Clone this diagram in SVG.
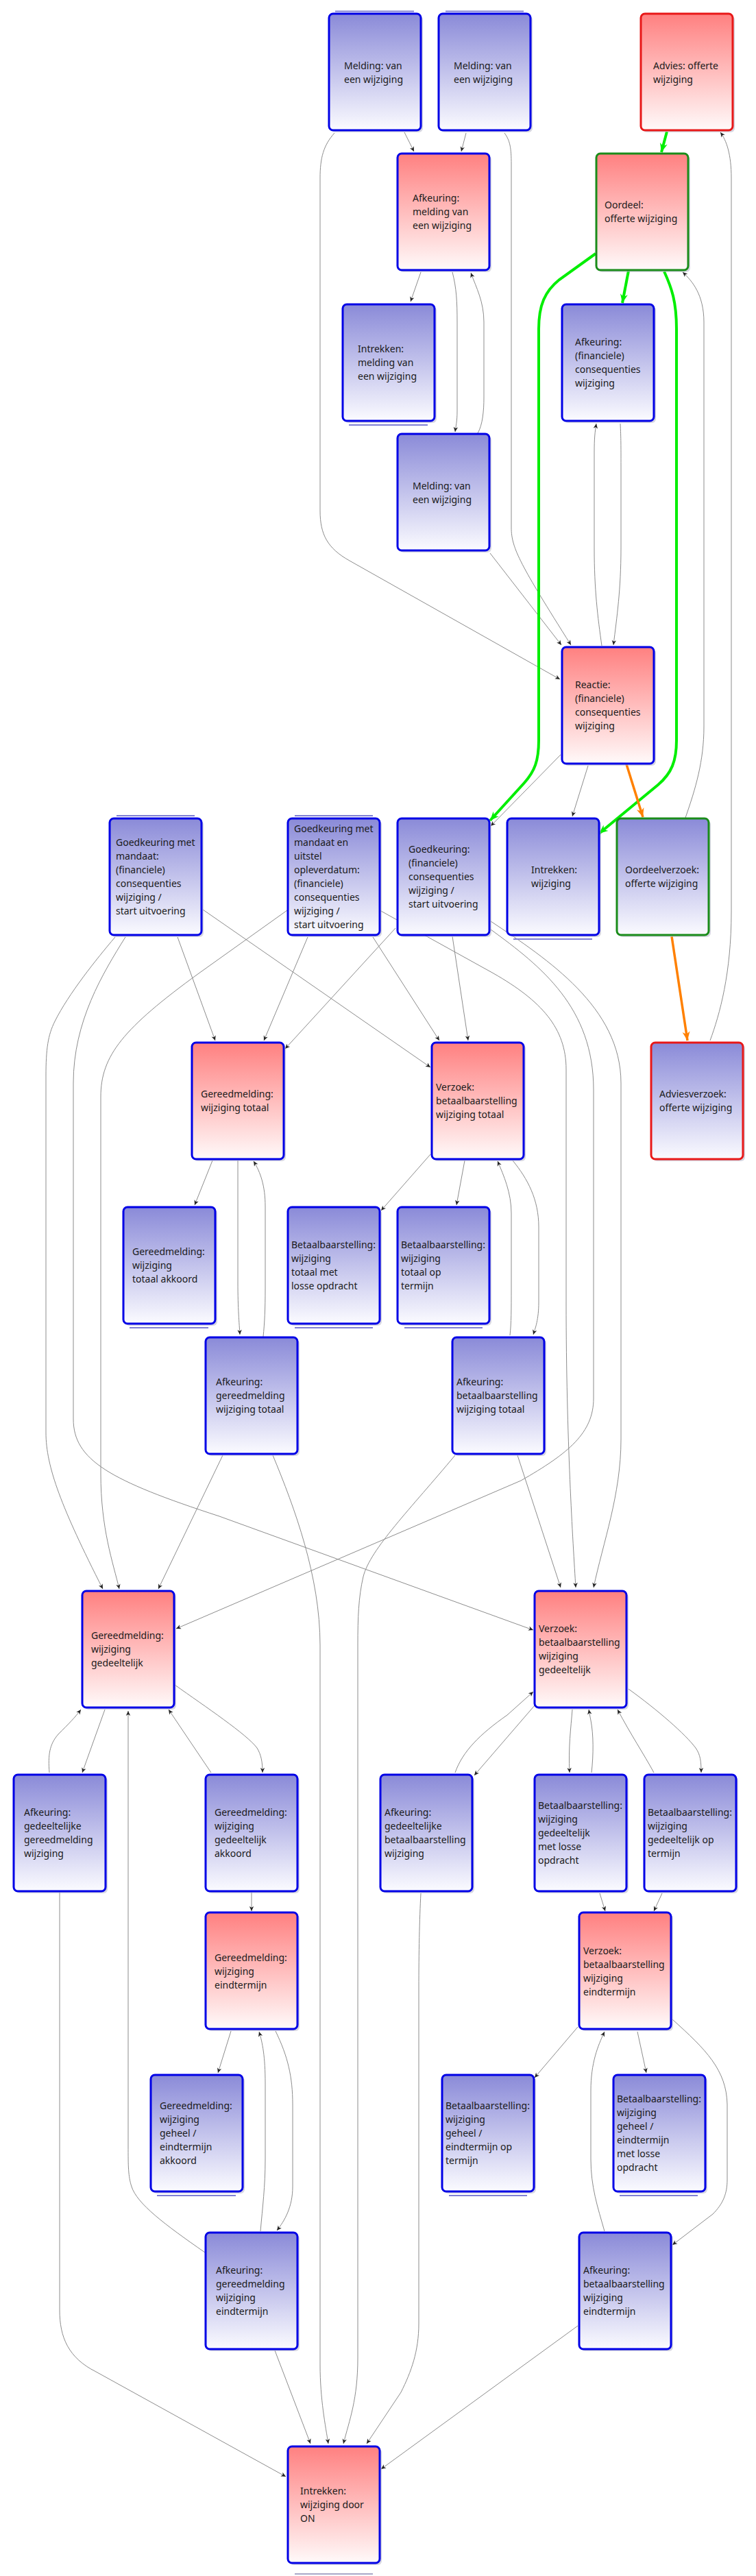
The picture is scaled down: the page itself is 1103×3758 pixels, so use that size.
<svg xmlns="http://www.w3.org/2000/svg" width="1103" height="3758" viewBox="0 0 1103 3758">
<style>
.sh{fill:#b4b4c8;opacity:0.55}
.bf{fill:url(#gb)}
.rf{fill:url(#gr)}
.bs{stroke:#0000e6;stroke-width:3}
.rs{stroke:#e81818;stroke-width:3}
.gs{stroke:#1a8c1a;stroke-width:3}
.dl{stroke:#8080d4;stroke-width:2}
.t{font-family:"Noto Sans","Open Sans","Liberation Sans",sans-serif;font-size:14px;fill:#1a1a1a}
.c{fill:none;stroke:#8c8c8c;stroke-width:1;marker-end:url(#ah)}
.g{fill:none;stroke:#00ee00;stroke-width:4;marker-end:url(#ag)}
.o{fill:none;stroke:#ff8000;stroke-width:3.5;marker-end:url(#ao)}
</style>
<defs>
<linearGradient id="gb" x1="0" y1="0" x2="0" y2="1"><stop offset="0" stop-color="#8a8ad8"/><stop offset="1" stop-color="#fbfbff"/></linearGradient>
<linearGradient id="gr" x1="0" y1="0" x2="0" y2="1"><stop offset="0" stop-color="#ff8080"/><stop offset="1" stop-color="#fffafa"/></linearGradient>
<marker id="ah" viewBox="-8 -4 9 8" refX="0" refY="0" markerWidth="9" markerHeight="8" orient="auto" markerUnits="userSpaceOnUse"><path d="M0,0 L-7,-3.2 L-5,0 L-7,3.2 z" fill="#222"/></marker>
<marker id="ag" viewBox="-14 -6 15 12" refX="0" refY="0" markerWidth="15" markerHeight="12" orient="auto" markerUnits="userSpaceOnUse"><path d="M0,0 L-13,-5.5 L-9,0 L-13,5.5 z" fill="#00ee00"/></marker>
<marker id="ao" viewBox="-14 -6 15 12" refX="0" refY="0" markerWidth="15" markerHeight="12" orient="auto" markerUnits="userSpaceOnUse"><path d="M0,0 L-13,-5.5 L-9,0 L-13,5.5 z" fill="#ff8000"/></marker>
</defs>
<rect width="1103" height="3758" fill="#ffffff"/>

<g id="connectors">
<path class="c" d="M590 193 L604 221"/>
<path class="c" d="M680 194 L673 221"/>
<path class="c" d="M736 194 C744 205,746 215,746 240 L746 770 C746 800,760 825,833 941"/>
<path class="c" d="M715 807 L819 941"/>
<path class="c" d="M488 194 C472 212,467 230,467 260 L467 745 C467 780,478 800,510 818 L817 991"/>
<path class="c" d="M614 397 L599 440"/>
<path class="c" d="M660 397 C666 420,667 440,667 470 L667 600 C667 615,665 622,664 630"/>
<path class="c" d="M697 632 C704 620,706 600,706 580 L706 470 C706 440,695 420,687 398"/>
<path class="c" d="M878 942 C872 900,867 860,867 800 L867 660 C867 640,868 630,870 618"/>
<path class="c" d="M905 618 C906 640,906 650,906 680 L906 800 C906 860,900 900,895 941"/>
<path class="c" d="M818 1101 L716 1205"/>
<path class="c" d="M858 1117 L835 1191"/>
<path class="c" d="M1036 1518 C1050 1480,1067 1420,1067 1330 L1067 260 C1067 225,1060 205,1051 193"/>
<path class="c" d="M1000 1193 C1015 1150,1027 1110,1027 1060 L1027 470 C1027 430,1010 410,996 397"/>
<path class="c" d="M168 1367 C140 1400,100 1450,80 1490 C70 1510,67 1530,67 1570 L67 2090 C67 2140,90 2200,150 2318"/>
<path class="c" d="M183 1367 C150 1420,107 1490,107 1580 L107 2070 C107 2130,160 2160,320 2212 L778 2378"/>
<path class="c" d="M259 1367 L314 1518"/>
<path class="c" d="M296 1327 L628 1557"/>
<path class="c" d="M419 1328 L290 1420 C180 1500,147 1540,147 1600 L147 2150 C147 2230,165 2280,174 2318"/>
<path class="c" d="M449 1367 L385 1518"/>
<path class="c" d="M544 1367 L641 1518"/>
<path class="c" d="M554 1328 L720 1420 C790 1460,826 1500,826 1560 L826 1900 C826 2100,836 2250,840 2316"/>
<path class="c" d="M577 1354 L416 1530"/>
<path class="c" d="M660 1366 L683 1518"/>
<path class="c" d="M716 1356 C790 1410,866 1470,866 1590 L866 2040 C866 2090,830 2120,760 2160 L257 2376"/>
<path class="c" d="M716 1344 C800 1400,906 1470,906 1580 L906 2100 C906 2180,880 2250,866 2316"/>
<path class="c" d="M310 1693 L284 1758"/>
<path class="c" d="M347 1693 L347 1870 C347 1910,349 1930,350 1947"/>
<path class="c" d="M384 1950 C386 1930,387 1910,387 1880 L387 1760 C387 1730,380 1710,370 1694"/>
<path class="c" d="M628 1684 L556 1766"/>
<path class="c" d="M678 1693 L666 1758"/>
<path class="c" d="M744 1948 C746 1930,746 1910,746 1880 L746 1770 C746 1740,735 1715,726 1694"/>
<path class="c" d="M748 1693 C770 1720,786 1750,786 1790 L786 1900 C786 1925,781 1938,778 1947"/>
<path class="c" d="M325 2123 L231 2318"/>
<path class="c" d="M398 2123 C430 2200,467 2300,467 2400 L467 3450 C467 3500,475 3540,479 3565"/>
<path class="c" d="M664 2123 C600 2200,540 2260,530 2300 C523 2330,522 2360,522 2400 L522 3440 C522 3500,510 3530,501 3565"/>
<path class="c" d="M755 2123 L818 2316"/>
<path class="c" d="M153 2494 L120 2586"/>
<path class="c" d="M72 2586 C70 2560,72 2545,85 2530 C100 2515,110 2505,118 2494"/>
<path class="c" d="M299 3286 C240 3245,200 3215,192 3190 C187 3175,187 3160,187 3130 L187 2496"/>
<path class="c" d="M308 2586 L246 2494"/>
<path class="c" d="M255 2458 C300 2490,360 2530,375 2550 C381 2560,383 2570,383 2586"/>
<path class="c" d="M87 2760 L87 3370 C87 3410,100 3440,140 3460 L417 3613"/>
<path class="c" d="M367 2760 L367 2788"/>
<path class="c" d="M337 2963 L318 3024"/>
<path class="c" d="M380 3255 C383 3220,387 3190,387 3150 L387 3040 C387 3000,383 2980,378 2964"/>
<path class="c" d="M402 2963 C420 3000,427 3030,427 3070 L427 3190 C427 3220,415 3240,404 3254"/>
<path class="c" d="M401 3429 L453 3565"/>
<path class="c" d="M664 2586 C675 2555,700 2530,740 2502 L778 2468"/>
<path class="c" d="M780 2488 L692 2590"/>
<path class="c" d="M835 2494 C833 2520,829 2550,831 2586"/>
<path class="c" d="M863 2586 C866 2560,866 2530,862 2510 L859 2494"/>
<path class="c" d="M954 2586 C940 2560,920 2530,901 2494"/>
<path class="c" d="M917 2464 C960 2495,1000 2530,1015 2550 C1022 2560,1023 2570,1023 2586"/>
<path class="c" d="M875 2762 L883 2788"/>
<path class="c" d="M966 2762 L954 2788"/>
<path class="c" d="M843 2957 L780 3031"/>
<path class="c" d="M882 3255 C872 3220,862 3190,862 3150 L862 3050 C862 3010,872 2985,882 2964"/>
<path class="c" d="M930 2964 L943 3024"/>
<path class="c" d="M981 2946 C1030 2990,1060 3020,1061 3070 L1061 3180 C1061 3200,1055 3215,1040 3230 L981 3275"/>
<path class="c" d="M614 2762 C612 2800,611 2850,611 2900 L611 3390 C611 3430,600 3460,585 3490 L535 3565"/>
<path class="c" d="M843 3393 L556 3602"/>
<path class="g" d="M973 192 L965 222"/>
<path class="g" d="M917 395 L908 442"/>
<path class="g" d="M869 370 L816 408 C795 425,786 445,786 480 L786 1080 C786 1110,780 1125,765 1142 L715 1197"/>
<path class="g" d="M969 396 C980 420,987 440,987 480 L987 1080 C987 1110,980 1128,960 1145 L874 1216"/>
<path class="o" d="M914 1115 L938 1192"/>
<path class="o" d="M980 1366 L1003 1518"/>
</g>

<g id="nodes">
<g id="n1"><rect class="sh" x="483" y="23" width="134" height="170" rx="6"/><line class="dl" x1="489" y1="16.5" x2="604" y2="16.5"/><rect class="bf bs" x="480" y="20" width="134" height="170" rx="6"/><text class="t"><tspan x="502" y="101">Melding: van</tspan><tspan x="502" y="121">een wijziging</tspan></text></g>
<g id="n2"><rect class="sh" x="643" y="23" width="134" height="170" rx="6"/><line class="dl" x1="650" y1="16.5" x2="764" y2="16.5"/><rect class="bf bs" x="640" y="20" width="134" height="170" rx="6"/><text class="t"><tspan x="662" y="101">Melding: van</tspan><tspan x="662" y="121">een wijziging</tspan></text></g>
<g id="n3"><rect class="sh" x="938" y="23" width="134" height="170" rx="6"/><rect class="rf rs" x="935" y="20" width="134" height="170" rx="6"/><text class="t"><tspan x="953" y="101">Advies: offerte</tspan><tspan x="953" y="121">wijziging</tspan></text></g>
<g id="n4"><rect class="sh" x="583" y="227" width="134" height="170" rx="6"/><rect class="rf bs" x="580" y="224" width="134" height="170" rx="6"/><text class="t"><tspan x="602" y="294">Afkeuring:</tspan><tspan x="602" y="314">melding van</tspan><tspan x="602" y="334">een wijziging</tspan></text></g>
<g id="n5"><rect class="sh" x="873" y="227" width="134" height="170" rx="6"/><rect class="rf gs" x="870" y="224" width="134" height="170" rx="6"/><text class="t"><tspan x="882" y="304">Oordeel:</tspan><tspan x="882" y="324">offerte wijziging</tspan></text></g>
<g id="n6"><rect class="sh" x="823" y="447" width="134" height="170" rx="6"/><rect class="bf bs" x="820" y="444" width="134" height="170" rx="6"/><text class="t"><tspan x="839" y="504">Afkeuring:</tspan><tspan x="839" y="524">(financiele)</tspan><tspan x="839" y="544">consequenties</tspan><tspan x="839" y="564">wijziging</tspan></text></g>
<g id="n7"><rect class="sh" x="503" y="447" width="134" height="170" rx="6"/><line class="dl" x1="509" y1="620" x2="624" y2="620"/><rect class="bf bs" x="500" y="444" width="134" height="170" rx="6"/><text class="t"><tspan x="522" y="514">Intrekken:</tspan><tspan x="522" y="534">melding van</tspan><tspan x="522" y="554">een wijziging</tspan></text></g>
<g id="n8"><rect class="sh" x="583" y="636" width="134" height="170" rx="6"/><rect class="bf bs" x="580" y="633" width="134" height="170" rx="6"/><text class="t"><tspan x="602" y="714">Melding: van</tspan><tspan x="602" y="734">een wijziging</tspan></text></g>
<g id="n9"><rect class="sh" x="823" y="947" width="134" height="170" rx="6"/><rect class="rf bs" x="820" y="944" width="134" height="170" rx="6"/><text class="t"><tspan x="839" y="1004">Reactie:</tspan><tspan x="839" y="1024">(financiele)</tspan><tspan x="839" y="1044">consequenties</tspan><tspan x="839" y="1064">wijziging</tspan></text></g>
<g id="n10"><rect class="sh" x="583" y="1197" width="134" height="170" rx="6"/><rect class="bf bs" x="580" y="1194" width="134" height="170" rx="6"/><text class="t"><tspan x="596" y="1244">Goedkeuring:</tspan><tspan x="596" y="1264">(financiele)</tspan><tspan x="596" y="1284">consequenties</tspan><tspan x="596" y="1304">wijziging /</tspan><tspan x="596" y="1324">start uitvoering</tspan></text></g>
<g id="n11"><rect class="sh" x="743" y="1197" width="134" height="170" rx="6"/><line class="dl" x1="749" y1="1370" x2="864" y2="1370"/><rect class="bf bs" x="740" y="1194" width="134" height="170" rx="6"/><text class="t"><tspan x="775" y="1274">Intrekken:</tspan><tspan x="775" y="1294">wijziging</tspan></text></g>
<g id="n12"><rect class="sh" x="903" y="1197" width="134" height="170" rx="6"/><rect class="bf gs" x="900" y="1194" width="134" height="170" rx="6"/><text class="t"><tspan x="912" y="1274">Oordeelverzoek:</tspan><tspan x="912" y="1294">offerte wijziging</tspan></text></g>
<g id="n13"><rect class="sh" x="163" y="1197" width="134" height="170" rx="6"/><line class="dl" x1="170" y1="1190" x2="284" y2="1190"/><rect class="bf bs" x="160" y="1194" width="134" height="170" rx="6"/><text class="t"><tspan x="169" y="1234">Goedkeuring met</tspan><tspan x="169" y="1254">mandaat:</tspan><tspan x="169" y="1274">(financiele)</tspan><tspan x="169" y="1294">consequenties</tspan><tspan x="169" y="1314">wijziging /</tspan><tspan x="169" y="1334">start uitvoering</tspan></text></g>
<g id="n14"><rect class="sh" x="423" y="1197" width="134" height="170" rx="6"/><line class="dl" x1="430" y1="1190" x2="544" y2="1190"/><rect class="bf bs" x="420" y="1194" width="134" height="170" rx="6"/><text class="t"><tspan x="429" y="1214">Goedkeuring met</tspan><tspan x="429" y="1234">mandaat en</tspan><tspan x="429" y="1254">uitstel</tspan><tspan x="429" y="1274">opleverdatum:</tspan><tspan x="429" y="1294">(financiele)</tspan><tspan x="429" y="1314">consequenties</tspan><tspan x="429" y="1334">wijziging /</tspan><tspan x="429" y="1354">start uitvoering</tspan></text></g>
<g id="n15"><rect class="sh" x="283" y="1524" width="134" height="170" rx="6"/><rect class="rf bs" x="280" y="1521" width="134" height="170" rx="6"/><text class="t"><tspan x="293" y="1601">Gereedmelding:</tspan><tspan x="293" y="1621">wijziging totaal</tspan></text></g>
<g id="n18"><rect class="sh" x="633" y="1524" width="134" height="170" rx="6"/><rect class="rf bs" x="630" y="1521" width="134" height="170" rx="6"/><text class="t"><tspan x="636" y="1591">Verzoek:</tspan><tspan x="636" y="1611">betaalbaarstelling</tspan><tspan x="636" y="1631">wijziging totaal</tspan></text></g>
<g id="n19"><rect class="sh" x="953" y="1524" width="134" height="170" rx="6"/><rect class="bf rs" x="950" y="1521" width="134" height="170" rx="6"/><text class="t"><tspan x="962" y="1601">Adviesverzoek:</tspan><tspan x="962" y="1621">offerte wijziging</tspan></text></g>
<g id="n16"><rect class="sh" x="183" y="1764" width="134" height="170" rx="6"/><line class="dl" x1="189" y1="1937" x2="304" y2="1937"/><rect class="bf bs" x="180" y="1761" width="134" height="170" rx="6"/><text class="t"><tspan x="193" y="1831">Gereedmelding:</tspan><tspan x="193" y="1851">wijziging</tspan><tspan x="193" y="1871">totaal akkoord</tspan></text></g>
<g id="n17"><rect class="sh" x="423" y="1764" width="134" height="170" rx="6"/><line class="dl" x1="430" y1="1937" x2="544" y2="1937"/><rect class="bf bs" x="420" y="1761" width="134" height="170" rx="6"/><text class="t"><tspan x="425" y="1821">Betaalbaarstelling:</tspan><tspan x="425" y="1841">wijziging</tspan><tspan x="425" y="1861">totaal met</tspan><tspan x="425" y="1881">losse opdracht</tspan></text></g>
<g id="n20"><rect class="sh" x="583" y="1764" width="134" height="170" rx="6"/><line class="dl" x1="590" y1="1937" x2="704" y2="1937"/><rect class="bf bs" x="580" y="1761" width="134" height="170" rx="6"/><text class="t"><tspan x="585" y="1821">Betaalbaarstelling:</tspan><tspan x="585" y="1841">wijziging</tspan><tspan x="585" y="1861">totaal op</tspan><tspan x="585" y="1881">termijn</tspan></text></g>
<g id="n21"><rect class="sh" x="303" y="1954" width="134" height="170" rx="6"/><rect class="bf bs" x="300" y="1951" width="134" height="170" rx="6"/><text class="t"><tspan x="315" y="2021">Afkeuring:</tspan><tspan x="315" y="2041">gereedmelding</tspan><tspan x="315" y="2061">wijziging totaal</tspan></text></g>
<g id="n23"><rect class="sh" x="663" y="1954" width="134" height="170" rx="6"/><rect class="bf bs" x="660" y="1951" width="134" height="170" rx="6"/><text class="t"><tspan x="666" y="2021">Afkeuring:</tspan><tspan x="666" y="2041">betaalbaarstelling</tspan><tspan x="666" y="2061">wijziging totaal</tspan></text></g>
<g id="n22"><rect class="sh" x="123" y="2324" width="134" height="170" rx="6"/><rect class="rf bs" x="120" y="2321" width="134" height="170" rx="6"/><text class="t"><tspan x="133" y="2391">Gereedmelding:</tspan><tspan x="133" y="2411">wijziging</tspan><tspan x="133" y="2431">gedeeltelijk</tspan></text></g>
<g id="n24"><rect class="sh" x="783" y="2324" width="134" height="170" rx="6"/><rect class="rf bs" x="780" y="2321" width="134" height="170" rx="6"/><text class="t"><tspan x="786" y="2381">Verzoek:</tspan><tspan x="786" y="2401">betaalbaarstelling</tspan><tspan x="786" y="2421">wijziging</tspan><tspan x="786" y="2441">gedeeltelijk</tspan></text></g>
<g id="n25"><rect class="sh" x="23" y="2592" width="134" height="170" rx="6"/><rect class="bf bs" x="20" y="2589" width="134" height="170" rx="6"/><text class="t"><tspan x="35" y="2649">Afkeuring:</tspan><tspan x="35" y="2669">gedeeltelijke</tspan><tspan x="35" y="2689">gereedmelding</tspan><tspan x="35" y="2709">wijziging</tspan></text></g>
<g id="n26"><rect class="sh" x="303" y="2592" width="134" height="170" rx="6"/><rect class="bf bs" x="300" y="2589" width="134" height="170" rx="6"/><text class="t"><tspan x="313" y="2649">Gereedmelding:</tspan><tspan x="313" y="2669">wijziging</tspan><tspan x="313" y="2689">gedeeltelijk</tspan><tspan x="313" y="2709">akkoord</tspan></text></g>
<g id="n29"><rect class="sh" x="558" y="2592" width="134" height="170" rx="6"/><rect class="bf bs" x="555" y="2589" width="134" height="170" rx="6"/><text class="t"><tspan x="561" y="2649">Afkeuring:</tspan><tspan x="561" y="2669">gedeeltelijke</tspan><tspan x="561" y="2689">betaalbaarstelling</tspan><tspan x="561" y="2709">wijziging</tspan></text></g>
<g id="n30"><rect class="sh" x="783" y="2592" width="134" height="170" rx="6"/><rect class="bf bs" x="780" y="2589" width="134" height="170" rx="6"/><text class="t"><tspan x="785" y="2639">Betaalbaarstelling:</tspan><tspan x="785" y="2659">wijziging</tspan><tspan x="785" y="2679">gedeeltelijk</tspan><tspan x="785" y="2699">met losse</tspan><tspan x="785" y="2719">opdracht</tspan></text></g>
<g id="n31"><rect class="sh" x="943" y="2592" width="134" height="170" rx="6"/><rect class="bf bs" x="940" y="2589" width="134" height="170" rx="6"/><text class="t"><tspan x="945" y="2649">Betaalbaarstelling:</tspan><tspan x="945" y="2669">wijziging</tspan><tspan x="945" y="2689">gedeeltelijk op</tspan><tspan x="945" y="2709">termijn</tspan></text></g>
<g id="n27"><rect class="sh" x="303" y="2793" width="134" height="170" rx="6"/><rect class="rf bs" x="300" y="2790" width="134" height="170" rx="6"/><text class="t"><tspan x="313" y="2861">Gereedmelding:</tspan><tspan x="313" y="2881">wijziging</tspan><tspan x="313" y="2901">eindtermijn</tspan></text></g>
<g id="n32"><rect class="sh" x="848" y="2793" width="134" height="170" rx="6"/><rect class="rf bs" x="845" y="2790" width="134" height="170" rx="6"/><text class="t"><tspan x="851" y="2851">Verzoek:</tspan><tspan x="851" y="2871">betaalbaarstelling</tspan><tspan x="851" y="2891">wijziging</tspan><tspan x="851" y="2911">eindtermijn</tspan></text></g>
<g id="n28"><rect class="sh" x="223" y="3030" width="134" height="170" rx="6"/><line class="dl" x1="229" y1="3203" x2="344" y2="3203"/><rect class="bf bs" x="220" y="3027" width="134" height="170" rx="6"/><text class="t"><tspan x="233" y="3077">Gereedmelding:</tspan><tspan x="233" y="3097">wijziging</tspan><tspan x="233" y="3117">geheel /</tspan><tspan x="233" y="3137">eindtermijn</tspan><tspan x="233" y="3157">akkoord</tspan></text></g>
<g id="n33"><rect class="sh" x="648" y="3030" width="134" height="170" rx="6"/><line class="dl" x1="655" y1="3203" x2="769" y2="3203"/><rect class="bf bs" x="645" y="3027" width="134" height="170" rx="6"/><text class="t"><tspan x="650" y="3077">Betaalbaarstelling:</tspan><tspan x="650" y="3097">wijziging</tspan><tspan x="650" y="3117">geheel /</tspan><tspan x="650" y="3137">eindtermijn op</tspan><tspan x="650" y="3157">termijn</tspan></text></g>
<g id="n34"><rect class="sh" x="898" y="3030" width="134" height="170" rx="6"/><line class="dl" x1="904" y1="3203" x2="1018" y2="3203"/><rect class="bf bs" x="895" y="3027" width="134" height="170" rx="6"/><text class="t"><tspan x="900" y="3067">Betaalbaarstelling:</tspan><tspan x="900" y="3087">wijziging</tspan><tspan x="900" y="3107">geheel /</tspan><tspan x="900" y="3127">eindtermijn</tspan><tspan x="900" y="3147">met losse</tspan><tspan x="900" y="3167">opdracht</tspan></text></g>
<g id="n35"><rect class="sh" x="303" y="3260" width="134" height="170" rx="6"/><rect class="bf bs" x="300" y="3257" width="134" height="170" rx="6"/><text class="t"><tspan x="315" y="3317">Afkeuring:</tspan><tspan x="315" y="3337">gereedmelding</tspan><tspan x="315" y="3357">wijziging</tspan><tspan x="315" y="3377">eindtermijn</tspan></text></g>
<g id="n37"><rect class="sh" x="848" y="3260" width="134" height="170" rx="6"/><rect class="bf bs" x="845" y="3257" width="134" height="170" rx="6"/><text class="t"><tspan x="851" y="3317">Afkeuring:</tspan><tspan x="851" y="3337">betaalbaarstelling</tspan><tspan x="851" y="3357">wijziging</tspan><tspan x="851" y="3377">eindtermijn</tspan></text></g>
<g id="n36"><rect class="sh" x="423" y="3572" width="134" height="170" rx="6"/><line class="dl" x1="430" y1="3755" x2="544" y2="3755" style="stroke:#a8a8c8"/><rect class="rf bs" x="420" y="3569" width="134" height="170" rx="6"/><text class="t"><tspan x="438" y="3639">Intrekken:</tspan><tspan x="438" y="3659">wijziging door</tspan><tspan x="438" y="3679">ON</tspan></text></g>
</g>
</svg>
